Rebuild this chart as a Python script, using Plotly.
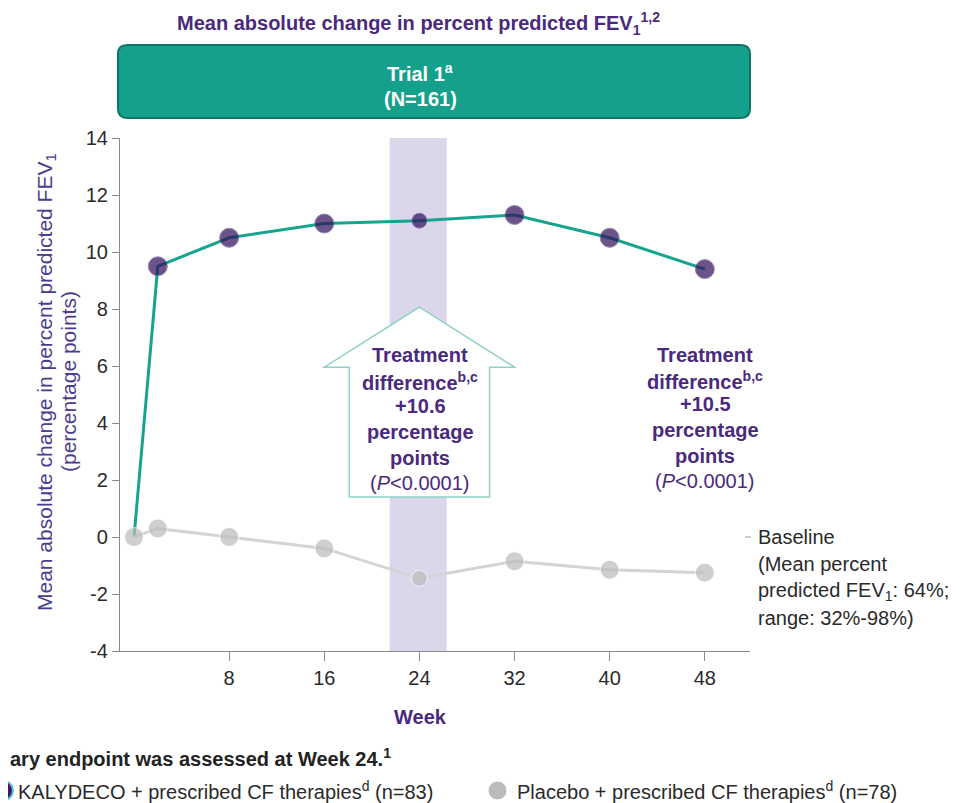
import plotly.graph_objects as go

weeks = [0, 2, 8, 16, 24, 32, 40, 48]
kalydeco = [0.0, 9.5, 10.5, 11.0, 11.1, 11.3, 10.5, 9.4]
placebo = [0.0, 0.3, 0.0, -0.4, -1.45, -0.85, -1.15, -1.25]
x_ticks = [8, 16, 24, 32, 40, 48]
x_ticklabels = ["8", "16", "24", "32", "40", "48"]
y_ticks = [-4, -2, 0, 2, 4, 6, 8, 10, 12, 14]
y_ticklabels = ["-4", "-2", "0", "2", "4", "6", "8", "10", "12", "14"]
band_weeks = [21.5, 26.3]

FONT = "Liberation Sans Narrow, Liberation Sans, Arial, sans-serif"
PURPLE = "#4a2a7c"
TEAL = "#17a48e"
DARK = "#2a2a2a"

# page body has an 8px margin; work in screen pixels and shift
OFF = 8
W_FIG, H_FIG = 967 - OFF, 803 - OFF
SL, SR, ST, SB = 120, 750, 138, 651  # plot area in screen pixels
L, R, T, B = SL - OFF, SR - OFF, ST - OFF, SB - OFF
PW, PH = R - L, B - T


def px(x):
    return (x - OFF - L) / PW


def py(y):
    return (B - (y - OFF)) / PH


fig = go.Figure()

fig.add_trace(go.Scatter(
    x=weeks, y=kalydeco, mode="lines+markers",
    line=dict(color=TEAL, width=3),
    marker=dict(color="#2e0d5a", size=[0, 19, 19, 19, 15, 19, 19, 19],
                line=dict(color="#6a5596", width=1)),
    showlegend=False, hoverinfo="x+y"))

fig.add_trace(go.Scatter(
    x=weeks, y=placebo, mode="lines+markers",
    line=dict(color="#d4d4d4", width=3),
    marker=dict(color="#bcbcbc", size=[19, 19, 19, 19, 16, 19, 19, 19],
                line=dict(color="#ffffff", width=1)),
    showlegend=False, hoverinfo="x+y"))

shapes = []
shapes.append(dict(type="rect", xref="x", yref="y", x0=band_weeks[0], x1=band_weeks[1],
                   y0=-4, y1=14, fillcolor="#dcd6ea", line=dict(width=0), layer="below"))
ax_c, ax_bl, ax_br, ax_sl, ax_sr = 24.0, 18.1, 29.9, 16.0, 32.0
ay_top, ay_sh, ay_bot = 8.07, 5.96, 1.40
arrow_path = (f"M {ax_c},{ay_top} L {ax_sr},{ay_sh} L {ax_br},{ay_sh} L {ax_br},{ay_bot} "
              f"L {ax_bl},{ay_bot} L {ax_bl},{ay_sh} L {ax_sl},{ay_sh} Z")
shapes.append(dict(type="path", xref="x", yref="y", path=arrow_path,
                   fillcolor="#ffffff", line=dict(color="#8ed2c6", width=1.5), layer="below"))


def rounded_box(x0, y0, x1, y1, r):
    p = lambda x, y: f"{px(x):.5f},{py(y):.5f}"
    return (f"M {p(x0 + r, y0)} L {p(x1 - r, y0)} Q {p(x1, y0)} {p(x1, y0 + r)} "
            f"L {p(x1, y1 - r)} Q {p(x1, y1)} {p(x1 - r, y1)} "
            f"L {p(x0 + r, y1)} Q {p(x0, y1)} {p(x0, y1 - r)} "
            f"L {p(x0, y0 + r)} Q {p(x0, y0)} {p(x0 + r, y0)} Z")


shapes.append(dict(type="path", xref="paper", yref="paper",
                   path=rounded_box(118, 45, 750, 118, 9),
                   fillcolor="#15a08b", line=dict(color="#0e7466", width=2)))
shapes.append(dict(type="line", xref="paper", yref="paper",
                   x0=px(745), x1=px(751), y0=py(537), y1=py(537),
                   line=dict(color="#999999", width=1)))
shapes.append(dict(type="circle", xref="paper", yref="paper",
                   x0=px(-6), x1=px(13), y0=py(781), y1=py(800),
                   fillcolor="#3d1a6b", line=dict(color="#5cc6d6", width=2)))
shapes.append(dict(type="circle", xref="paper", yref="paper",
                   x0=px(488), x1=px(507), y0=py(781), y1=py(800),
                   fillcolor="#bcbcbc", line=dict(color="#ffffff", width=1)))

ann = []


def A(text, x, y, size=20, color=DARK, xanchor="center", yanchor="middle", angle=0):
    ann.append(dict(text=text, x=px(x), y=py(y), xref="paper", yref="paper", showarrow=False,
                    font=dict(family=FONT, size=size, color=color), xanchor=xanchor,
                    yanchor=yanchor, textangle=angle))


A("<b>Mean absolute change in percent predicted FEV<sub>1</sub><sup>1,2</sup></b>", 418, 24, 20, PURPLE)
A("<b>Trial 1<sup>a</sup></b>", 420, 73, 20, "#ffffff")
A("<b>(N=161)</b>", 420, 99, 20, "#ffffff")

A("Mean absolute change in percent predicted FEV<sub>1</sub>", 46, 382, 21, "#4a3d8f", angle=-90)
A("(percentage points)", 68, 382, 21, "#4a3d8f", angle=-90)

texts = ["<b>Treatment</b>", "<b>difference<sup>b,c</sup></b>", "<b>+10.6</b>",
         "<b>percentage</b>", "<b>points</b>", "(<i>P</i>&lt;0.0001)"]
for t, yy in zip(texts, [355, 381, 406, 432, 458, 483]):
    A(t, 420, yy, 20, PURPLE)
texts2 = ["<b>Treatment</b>", "<b>difference<sup>b,c</sup></b>", "<b>+10.5</b>",
          "<b>percentage</b>", "<b>points</b>", "(<i>P</i>&lt;0.0001)"]
for t, yy in zip(texts2, [355, 380, 404, 430, 456, 481]):
    A(t, 705, yy, 20, PURPLE)

for t, yy in zip(["Baseline", "(Mean percent", "predicted FEV<sub>1</sub>: 64%;", "range: 32%-98%)"],
                 [537, 564, 591, 618]):
    A(t, 756, yy, 20, DARK, xanchor="left")

A("<b>Week</b>", 420, 717, 20, PURPLE)

A("<b>ary endpoint was assessed at Week 24.<sup>1</sup></b>", OFF, 757, 20, "#222222", xanchor="left")
A("KALYDECO + prescribed CF therapies<sup>d</sup> (n=83)", 16, 790, 20, DARK, xanchor="left")
A("Placebo + prescribed CF therapies<sup>d</sup> (n=78)", 515, 790, 20, DARK, xanchor="left")

fig.update_layout(
    width=W_FIG, height=H_FIG,
    margin=dict(l=L, r=W_FIG - R, t=T, b=H_FIG - B, pad=0),
    paper_bgcolor="#ffffff", plot_bgcolor="#ffffff",
    font=dict(family=FONT, size=20, color=DARK),
    shapes=shapes, annotations=ann,
    xaxis=dict(range=[-1.18, 51.8], tickvals=x_ticks, ticktext=x_ticklabels,
               showgrid=False, zeroline=False, showline=True, linecolor="#8a8a8a", linewidth=1.2,
               ticks="outside", ticklen=9, tickcolor="#8a8a8a",
               tickfont=dict(family=FONT, size=20, color=DARK), fixedrange=True),
    yaxis=dict(range=[-4, 14], tickvals=y_ticks, ticktext=y_ticklabels, showgrid=False,
               zeroline=False, showline=True, linecolor="#8a8a8a", linewidth=1.2,
               ticks="outside", ticklen=7, tickcolor="#8a8a8a",
               tickfont=dict(family=FONT, size=20, color=DARK), fixedrange=True),
)

fig.write_html("out.html")
